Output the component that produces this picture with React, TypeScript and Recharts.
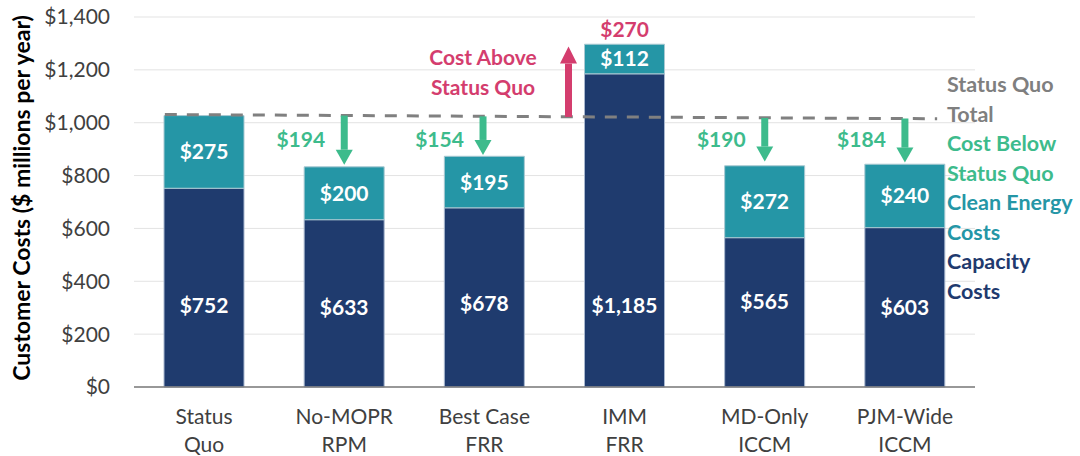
import React from "react";
import {
  BarChart,
  Bar,
  XAxis,
  YAxis,
  CartesianGrid,
  ReferenceLine,
  ReferenceDot,
  LabelList,
} from "recharts";

const categories = ["Status Quo", "No-MOPR RPM", "Best Case FRR", "IMM FRR", "MD-Only ICCM", "PJM-Wide ICCM"];
const tickLines = [
  ["Status", "Quo"],
  ["No-MOPR", "RPM"],
  ["Best Case", "FRR"],
  ["IMM", "FRR"],
  ["MD-Only", "ICCM"],
  ["PJM-Wide", "ICCM"],
];
const capacityCosts = [752, 633, 678, 1185, 565, 603];
const cleanEnergyCosts = [275, 200, 195, 112, 272, 240];
const capacityLabelAt = [314, 303, 318, 311, 326, 303];
const yTicks = [0, 200, 400, 600, 800, 1000, 1200, 1400];

// Status quo total reference (dashed) in data units
const statusQuoLine = [
  { x: 0.22, y: 1031 },
  { x: 5.73, y: 1015 },
];
// Cost below status quo arrows
const belowArrows = [
  { x: 1.5, from: 1027, to: 841, label: "$194" },
  { x: 2.49, from: 1024, to: 878, label: "$154" },
  { x: 4.5, from: 1018, to: 853, label: "$190" },
  { x: 5.5, from: 1016, to: 849, label: "$184" },
];
// Cost above status quo arrow
const aboveArrow = { x: 3.1, from: 1022, to: 1288, label: "$270", labelX: 3.5, labelY: 1353 };
const aboveText = [
  { x: 2.49, y: 1247, text: "Cost Above" },
  { x: 2.49, y: 1133, text: "Status Quo" },
];

const legendItems = [
  { text: "Status Quo", color: "#7f7f7f" },
  { text: "Total", color: "#7f7f7f" },
  { text: "Cost Below", color: "#3dbb8c" },
  { text: "Status Quo", color: "#3dbb8c" },
  { text: "Clean Energy", color: "#2596a6" },
  { text: "Costs", color: "#2596a6" },
  { text: "Capacity", color: "#1f3a6e" },
  { text: "Costs", color: "#1f3a6e" },
];

const data = categories.map((name, i) => ({
  x: i + 0.5,
  name,
  capacity: capacityCosts[i],
  clean: cleanEnergyCosts[i],
  capLabel: capacityLabelAt[i],
}));

const FONT = "Lato, 'Open Sans', sans-serif";
const NAVY = "#1f3b6e";
const TEAL = "#2596a6";
const GREEN = "#3dbb8c";
const RED = "#d43d6e";
const GRAY = "#808080";

const makeArrow = (color: string, headW: number, headL: number, shaftW: number) => (props: any) => {
  const { x1, y1, x2, y2 } = props;
  const dir = y2 < y1 ? -1 : 1;
  const baseY = y2 - dir * headL;
  return (
    <g>
      <line x1={x1} y1={y1} x2={x2} y2={baseY} stroke={color} strokeWidth={shaftW} />
      <polygon
        points={`${x2 - headW / 2},${baseY} ${x2 + headW / 2},${baseY} ${x2},${y2}`}
        fill={color}
      />
    </g>
  );
};

const XTick = (props: any) => {
  const { x, y, payload } = props;
  const idx = Math.round(payload.value - 0.5);
  const lines = tickLines[idx] || ["", ""];
  return (
    <text x={x} y={y} textAnchor="middle" fill="#404040" fontSize={21} fontFamily={FONT}>
      <tspan x={x} dy={29}>{lines[0]}</tspan>
      <tspan x={x} dy={28}>{lines[1]}</tspan>
    </text>
  );
};

const CapLabel = (props: any) => {
  const { x, y, width, height, value, index } = props;
  const cap = capacityCosts[index];
  const pos = capacityLabelAt[index];
  const py = y + height - (height * pos) / cap;
  return (
    <text
      x={x + width / 2}
      y={py}
      textAnchor="middle"
      dominantBaseline="central"
      fill="#ffffff"
      fontSize={21}
      fontWeight={700}
      fontFamily={FONT}
    >
      {`$${Number(value).toLocaleString("en-US")}`}
    </text>
  );
};

const textLabel = (value: string, color: string) => ({
  value,
  position: "center" as const,
  fill: color,
  fontSize: 21,
  fontWeight: 700,
  fontFamily: FONT,
});

export default function App() {
  return (
    <div style={{ position: "absolute", left: 0, top: 0, width: 1080, height: 456, background: "#fff" }}>
      <BarChart
        width={1080}
        height={456}
        data={data}
        margin={{ top: 17, right: 105, bottom: 0, left: 10 }}
        barSize={80}
      >
        <CartesianGrid vertical={false} stroke="#e3e3e3" strokeWidth={1} />
        <XAxis
          type="number"
          dataKey="x"
          domain={[0, 6]}
          ticks={[0.5, 1.5, 2.5, 3.5, 4.5, 5.5]}
          tick={<XTick />}
          tickLine={false}
          axisLine={{ stroke: "#7a7a7a", strokeWidth: 1.5 }}
          height={69}
          interval={0}
        />
        <YAxis
          domain={[0, 1400]}
          ticks={yTicks}
          width={124}
          axisLine={false}
          tickLine={false}
          tickMargin={18}
          interval={0}
          tick={{ fill: "#404040", fontSize: 21, fontFamily: FONT }}
          tickFormatter={(v: number) => `$${v.toLocaleString("en-US")}`}
          label={{
            content: () => (
              <text
                transform="translate(21,198) rotate(-90)"
                textAnchor="middle"
                dominantBaseline="central"
                fill="#000"
                fontSize={23}
                fontWeight={700}
                fontFamily={FONT}
              >
                Customer Costs ($ millions per year)
              </text>
            ),
          }}
        />
        <Bar dataKey="capacity" stackId="a" fill={NAVY} stroke="#a9b8cf" strokeWidth={1} isAnimationActive={false}>
          <LabelList dataKey="capacity" content={<CapLabel />} />
        </Bar>
        <Bar dataKey="clean" stackId="a" fill={TEAL} stroke="#a9c9d2" strokeWidth={1} isAnimationActive={false}>
          <LabelList
            dataKey="clean"
            position="center"
            fill="#ffffff"
            fontSize={21}
            fontWeight={700}
            fontFamily={FONT}
            formatter={(v: any) => `$${v}`}
          />
        </Bar>
        <ReferenceLine
          segment={statusQuoLine}
          stroke={GRAY}
          strokeWidth={3}
          strokeDasharray="12 10"
          ifOverflow="visible"
        />
        {belowArrows.map((a, i) => (
          <ReferenceLine
            key={`ba${i}`}
            segment={[
              { x: a.x, y: a.from },
              { x: a.x, y: a.to },
            ]}
            ifOverflow="visible"
            shape={makeArrow(GREEN, 17, 15, 7)}
          />
        ))}
        {belowArrows.map((a, i) => (
          <ReferenceDot
            key={`bl${i}`}
            x={a.x - 0.31}
            y={935}
            r={0}
            fill="none"
            stroke="none"
            ifOverflow="visible"
            label={textLabel(a.label, GREEN)}
          />
        ))}
        <ReferenceLine
          segment={[
            { x: aboveArrow.x, y: aboveArrow.from },
            { x: aboveArrow.x, y: aboveArrow.to },
          ]}
          ifOverflow="visible"
          shape={makeArrow(RED, 17, 17, 7)}
        />
        <ReferenceDot
          x={aboveArrow.labelX}
          y={aboveArrow.labelY}
          r={0}
          fill="none"
          stroke="none"
          ifOverflow="visible"
          label={textLabel(aboveArrow.label, RED)}
        />
        {aboveText.map((t, i) => (
          <ReferenceDot
            key={`at${i}`}
            x={t.x}
            y={t.y}
            r={0}
            fill="none"
            stroke="none"
            ifOverflow="visible"
            label={textLabel(t.text, RED)}
          />
        ))}
      </BarChart>
      <div
        style={{
          position: "absolute",
          left: 947,
          top: 70,
          fontFamily: FONT,
          fontWeight: 700,
          fontSize: 21.5,
          lineHeight: "29.5px",
          whiteSpace: "nowrap",
        }}
      >
        {legendItems.map((l, i) => (
          <div key={i} style={{ color: l.color }}>
            {l.text}
          </div>
        ))}
      </div>
    </div>
  );
}
